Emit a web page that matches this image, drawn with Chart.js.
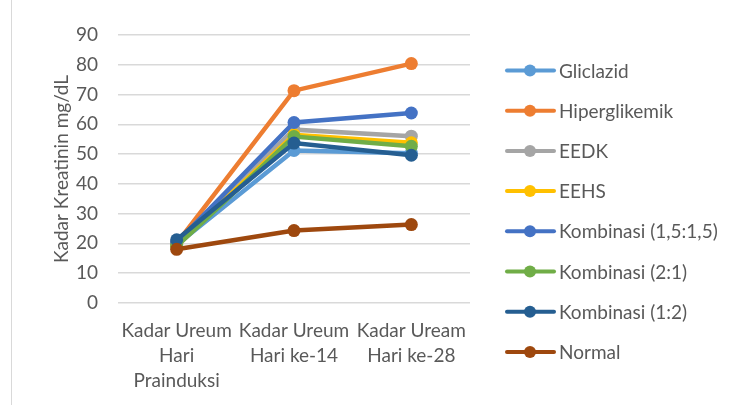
<!DOCTYPE html>
<html>
<head>
<meta charset="utf-8">
<script src="https://cdn.jsdelivr.net/npm/chart.js@4.4.1/dist/chart.umd.min.js"></script>
<style>
  html, body { margin: 0; padding: 0; background: #fff; }
  #wrap { position: relative; width: 736px; height: 405px; }
  #frame { position: absolute; left: 11px; top: -2px; width: 730px; height: 420px; border: 1px solid #d9d9d9; box-sizing: border-box; }
</style>
</head>
<body>
<div id="wrap">
  <div id="frame"></div>
  <canvas id="chart" width="736" height="405"></canvas>
</div>
<script>
"use strict";

// Kategorier och serier
const categories = [
    ["Kadar Ureum", "Hari", "Prainduksi"],
    ["Kadar Ureum", "Hari ke-14"],
    ["Kadar Uream", "Hari ke-28"]
];
const seriesNames = ["Gliclazid", "Hiperglikemik", "EEDK", "EEHS",
    "Kombinasi (1,5:1,5)", "Kombinasi (2:1)", "Kombinasi (1:2)", "Normal"];
const gliclazid = [19.5, 51.2, 50.3];
const hiperglikemik = [20.0, 71.3, 80.4];
const eedk = [19.8, 58.2, 56.0];
const eehs = [19.6, 56.5, 53.8];
const kombinasi15 = [20.3, 60.6, 63.8];
const kombinasi21 = [19.0, 55.9, 52.6];
const kombinasi12 = [21.2, 53.7, 49.6];
const normal = [18.0, 24.3, 26.3];
const yTicks = [0, 10, 20, 30, 40, 50, 60, 70, 80, 90];

const seriesValues = [gliclazid, hiperglikemik, eedk, eehs, kombinasi15, kombinasi21, kombinasi12, normal];
const colors = ["#5B9BD5", "#ED7D31", "#A5A5A5", "#FFC000", "#4472C4", "#70AD47", "#255E91", "#9E480E"];

const fontFamily = "Lato, 'Open Sans', sans-serif";
const textColor = "#595959";

// Egen legend: linje med punkt + text
const sideLegend = {
    id: 'sideLegend',
    afterDraw(chart) {
        const ctx = chart.ctx;
        ctx.save();
        chart.data.datasets.forEach((ds, i) => {
            const y = 70.5 + i * 40.2;
            ctx.strokeStyle = ds.borderColor;
            ctx.lineWidth = 4;
            ctx.lineCap = 'round';
            ctx.beginPath();
            ctx.moveTo(507, y);
            ctx.lineTo(554, y);
            ctx.stroke();
            ctx.fillStyle = ds.borderColor;
            ctx.beginPath();
            ctx.arc(530, y, 6, 0, Math.PI * 2);
            ctx.fill();
            ctx.fillStyle = textColor;
            ctx.font = "19px " + fontFamily;
            ctx.textBaseline = 'middle';
            ctx.fillText(ds.label, 559, y + 1);
        });
        ctx.restore();
    }
};

new Chart(document.getElementById('chart'), {
    type: 'line',
    data: {
        labels: categories,
        datasets: seriesNames.map((name, i) => ({
            label: name,
            data: seriesValues[i],
            borderColor: colors[i],
            backgroundColor: colors[i],
            borderWidth: 4.5,
            pointRadius: 6.5,
            pointHoverRadius: 6.5,
            pointBorderWidth: 0,
            tension: 0,
            order: seriesNames.length - i
        }))
    },
    options: {
        responsive: false,
        animation: false,
        layout: {
            padding: { top: 35, right: 266, left: 40, bottom: 4 }
        },
        plugins: {
            legend: { display: false },
            tooltip: { enabled: false }
        },
        scales: {
            x: {
                offset: true,
                grid: { display: false },
                border: { display: false },
                ticks: {
                    color: textColor,
                    font: { family: fontFamily, size: 19, lineHeight: 1.3 },
                    maxRotation: 0,
                    autoSkip: false,
                    padding: 8
                }
            },
            y: {
                min: 0,
                max: 90,
                afterBuildTicks: axis => { axis.ticks = yTicks.map(v => ({ value: v })); },
                afterFit: axis => { axis.width = 78; },
                grid: { color: '#d9d9d9', lineWidth: 1.5, drawTicks: false },
                border: { display: false },
                ticks: {
                    color: textColor,
                    font: { family: fontFamily, size: 19 },
                    padding: 20
                },
                title: {
                    display: true,
                    text: 'Kadar Kreatinin mg/dL',
                    color: textColor,
                    font: { family: fontFamily, size: 19 },
                    padding: { top: 10, bottom: 4 }
                }
            }
        }
    },
    plugins: [sideLegend]
});
</script>
</body>
</html>
